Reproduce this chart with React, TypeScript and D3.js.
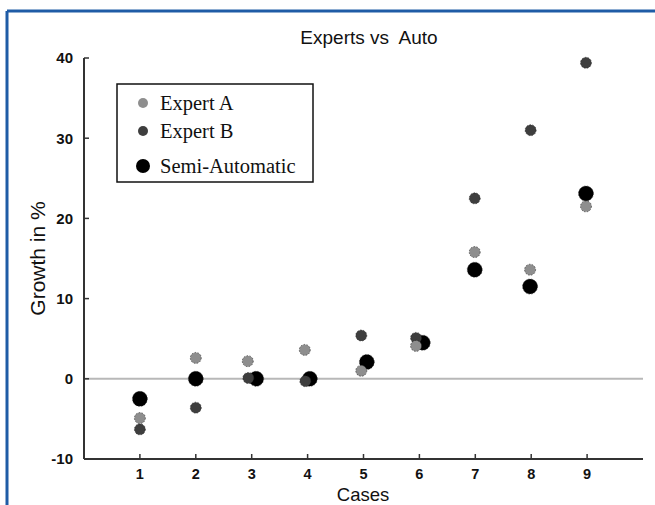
import React from "react";
import * as d3 from "d3";

const W = 655;
const H = 505;

const cases = [1, 2, 3, 4, 5, 6, 7, 8, 9];
const yTicks = [-10, 0, 10, 20, 30, 40];

const expertAX = [1, 2, 2.93, 3.95, 4.96, 5.94, 6.99, 7.98, 8.98];
const expertAY = [-4.9, 2.6, 2.2, 3.6, 1.0, 4.1, 15.8, 13.6, 21.5];

const expertBX = [1, 2, 2.94, 3.96, 4.96, 5.94, 6.99, 7.99, 8.98];
const expertBY = [-6.3, -3.6, 0.1, -0.3, 5.4, 5.1, 22.5, 31.0, 39.4];

const semiX = [1, 2, 3.08, 4.04, 5.06, 6.06, 6.99, 7.98, 8.98];
const semiY = [-2.5, 0, 0, 0, 2.1, 4.5, 13.6, 11.5, 23.1];

const seriesNames = ["Expert A", "Expert B", "Semi-Automatic"];
const seriesColors = ["#8e8e8e", "#3e3e3e", "#000000"];
const seriesRadius = [5.5, 5.5, 7.5];

export default function App() {
  const x = d3.scaleLinear().domain([0, 10]).range([84, 643]);
  const y = d3.scaleLinear().domain([-10, 40]).range([459, 58]);

  const series = [
    { xs: semiX, ys: semiY, idx: 2 },
    { xs: expertBX, ys: expertBY, idx: 1 },
    { xs: expertAX, ys: expertAY, idx: 0 },
  ];

  const sans = "'Liberation Sans', Arial, sans-serif";
  const serif = "'Liberation Serif', 'Times New Roman', serif";

  const x0 = x(0);
  const xEnd = 643;

  return (
    <svg
      width={W}
      height={H}
      style={{ position: "absolute", left: 0, top: 0, background: "#fff" }}
    >
      <rect x={0} y={0} width={W} height={H} fill="#fff" />
      {/* blue frame */}
      <line x1={7} y1={11} x2={W} y2={11} stroke="#1f5ca6" strokeWidth={3} />
      <line x1={7} y1={11} x2={7} y2={H} stroke="#1f5ca6" strokeWidth={3} />

      {/* title */}
      <text
        x={369}
        y={44}
        textAnchor="middle"
        fontFamily={sans}
        fontSize={19}
        fill="#111"
        style={{ whiteSpace: "pre" }}
      >
        {"Experts vs\u00a0 Auto"}
      </text>

      {/* zero line */}
      <line x1={x0} x2={xEnd} y1={y(0)} y2={y(0)} stroke="#b8b8b8" strokeWidth={2} />

      {/* axes */}
      <line x1={x0} x2={x0} y1={y(40)} y2={y(-10)} stroke="#333" strokeWidth={2} />
      <line x1={x0} x2={xEnd} y1={y(-10)} y2={y(-10)} stroke="#333" strokeWidth={2} />

      {yTicks.map((t) => (
        <g key={"yt" + t}>
          <line x1={x0} x2={x0 + 5} y1={y(t)} y2={y(t)} stroke="#333" strokeWidth={1.5} />
          <text
            x={x0 - 11}
            y={y(t)}
            dy="0.36em"
            textAnchor="end"
            fontFamily={sans}
            fontSize={15}
            fontWeight="bold"
            fill="#111"
          >
            {t}
          </text>
        </g>
      ))}

      {cases.map((c) => (
        <g key={"xt" + c}>
          <line x1={x(c)} x2={x(c)} y1={y(-10)} y2={y(-10) - 5} stroke="#333" strokeWidth={1.5} />
          <text
            x={x(c)}
            y={y(-10) + 20}
            textAnchor="middle"
            fontFamily={sans}
            fontSize={14.5}
            fontWeight="bold"
            fill="#111"
          >
            {c}
          </text>
        </g>
      ))}

      <text x={363} y={500.5} textAnchor="middle" fontFamily={sans} fontSize={18.5} fill="#111">
        Cases
      </text>
      <text
        transform={`translate(45, ${y(15)}) rotate(-90)`}
        textAnchor="middle"
        fontFamily={sans}
        fontSize={21}
        fill="#111"
      >
        Growth in %
      </text>

      {/* points */}
      {series.map((s) =>
        s.xs.map((xv, i) => (
          <circle
            key={s.idx + "-" + i}
            cx={x(xv)}
            cy={y(s.ys[i])}
            r={seriesRadius[s.idx]}
            fill={seriesColors[s.idx]}
            stroke="#222"
            strokeWidth={0.6}
            strokeDasharray="1.5 1.5"
          />
        ))
      )}

      {/* legend */}
      <rect x={117} y={84} width={196} height={98} fill="#fff" stroke="#111" strokeWidth={1.5} />
      {seriesNames.map((n, i) => {
        const ly = [103, 131, 166][i];
        return (
          <g key={n}>
            <circle cx={143} cy={ly} r={[5, 5, 7][i]} fill={seriesColors[i]} />
            <text x={160} y={ly} dy="0.33em" fontFamily={serif} fontSize={20.5} fill="#111">
              {n}
            </text>
          </g>
        );
      })}
    </svg>
  );
}
